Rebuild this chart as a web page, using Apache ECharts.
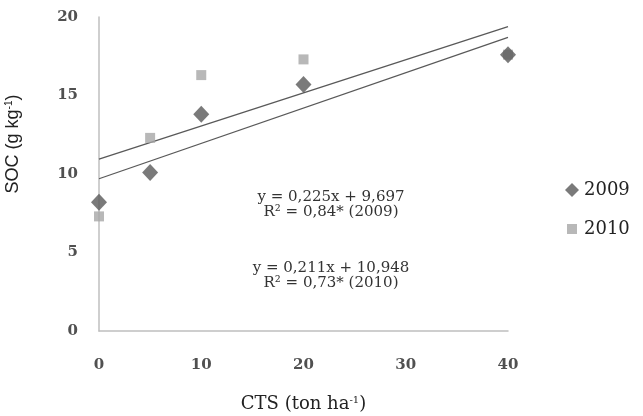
<!DOCTYPE html>
<html>
<head>
<meta charset="utf-8">
<script src="https://cdn.jsdelivr.net/npm/echarts@6/dist/echarts.min.js"></script>
<style>
  html, body { margin: 0; padding: 0; background: #fff; }
  #chart { width: 643px; height: 416px; }
</style>
</head>
<body>
<div id="chart"></div>
<script>
// doses of CTS (ton/ha)
const cts = [0, 5, 10, 20, 40]
// SOC (g/kg)
const soc2009 = [8.2, 10.1, 13.8, 15.7, 17.6]
const soc2010 = [7.3, 12.3, 16.3, 17.3, 17.6]
// trend line end points (from the fitted equations)
const trend2009 = [[0, 9.697], [40, 18.697]]
const trend2010 = [[0, 10.948], [40, 19.388]]
const xTicks = [0, 10, 20, 30, 40]
const yTicks = [0, 5, 10, 15, 20]
const equations = [
  'y = 0,225x + 9,697',
  'R² = 0,84* (2009)',
  'y = 0,211x + 10,948',
  'R² = 0,73* (2010)'
]

const serif = '"DejaVu Serif", "Liberation Serif", serif'
const sans = '"Liberation Sans", Arial, sans-serif'
const textColor = '#505050'

const chart = echarts.init(document.getElementById('chart'))

const eqY = [197, 212, 268, 283]

chart.setOption({
  animation: false,
  textStyle: { fontFamily: serif },
  grid: {
    left: 99,
    right: 135,
    top: 17,
    bottom: 85,
    outerBoundsMode: 'none'
  },
  legend: [
    {
      left: 560,
      top: 176,
      itemWidth: 14,
      itemHeight: 14,
      data: [{ name: '2009', icon: 'diamond', itemStyle: { color: '#595959' } }],
      textStyle: { fontFamily: serif, fontSize: 18, color: '#222' }
    },
    {
      left: 562,
      top: 215,
      itemWidth: 10,
      itemHeight: 10,
      data: [{ name: '2010', icon: 'rect', itemStyle: { color: '#a6a6a6' } }],
      textStyle: { fontFamily: serif, fontSize: 18, color: '#222', padding: [0, 0, 0, 2] }
    }
  ],
  xAxis: {
    type: 'value',
    min: 0,
    max: 40,
    interval: 10,
    name: '{m|CTS (ton ha}{s|-1}{m|)}',
    nameLocation: 'middle',
    nameGap: 64,
    nameTextStyle: {
      rich: {
        m: { fontFamily: serif, fontSize: 18, color: '#222' },
        s: { fontFamily: serif, fontSize: 10, color: '#222', verticalAlign: 'top', padding: [0, 0, 9, 0] }
      }
    },
    axisLine: { lineStyle: { color: '#bfbfbf', width: 1.5 } },
    axisTick: { show: false },
    splitLine: { show: false },
    axisLabel: {
      margin: 27,
      fontFamily: serif,
      fontSize: 15,
      fontWeight: 'bold',
      color: textColor,
      customValues: xTicks
    }
  },
  yAxis: {
    type: 'value',
    min: 0,
    max: 20,
    interval: 5,
    name: '{m|SOC (g kg}{s|-1}{m|)}',
    nameLocation: 'middle',
    nameGap: 76,
    nameTextStyle: {
      padding: [0, 0, 0, 60],
      rich: {
        m: { fontFamily: sans, fontSize: 18, color: '#222' },
        s: { fontFamily: sans, fontSize: 10, color: '#222', verticalAlign: 'top', padding: [0, 0, 9, 0] }
      }
    },
    axisLine: { show: true, lineStyle: { color: '#bfbfbf', width: 1.5 } },
    axisTick: { show: false },
    splitLine: { show: false },
    axisLabel: {
      margin: 21,
      fontFamily: serif,
      fontSize: 15,
      fontWeight: 'bold',
      color: textColor,
      customValues: yTicks
    }
  },
  series: [
    {
      name: 'trend2009',
      type: 'line',
      data: trend2009,
      symbol: 'none',
      silent: true,
      lineStyle: { color: '#595959', width: 1.3 },
      z: 1
    },
    {
      name: 'trend2010',
      type: 'line',
      data: trend2010,
      symbol: 'none',
      silent: true,
      lineStyle: { color: '#595959', width: 1.3 },
      z: 1
    },
    {
      name: '2010',
      type: 'scatter',
      symbol: 'rect',
      symbolSize: 10,
      clip: false,
      itemStyle: { color: '#a6a6a6' },
      data: cts.map((x, i) => [x, soc2010[i]]),
      z: 2
    },
    {
      name: '2009',
      type: 'scatter',
      symbol: 'diamond',
      symbolSize: [16, 17],
      clip: false,
      itemStyle: { color: '#595959' },
      data: cts.map((x, i) => [x, soc2009[i]]),
      z: 3
    }
  ],
  graphic: equations.map((t, i) => ({
    type: 'text',
    x: 331,
    y: eqY[i],
    style: {
      text: t,
      fontFamily: serif,
      fontSize: 15,
      fill: '#333',
      align: 'center',
      verticalAlign: 'middle'
    }
  }))
})
</script>
</body>
</html>
